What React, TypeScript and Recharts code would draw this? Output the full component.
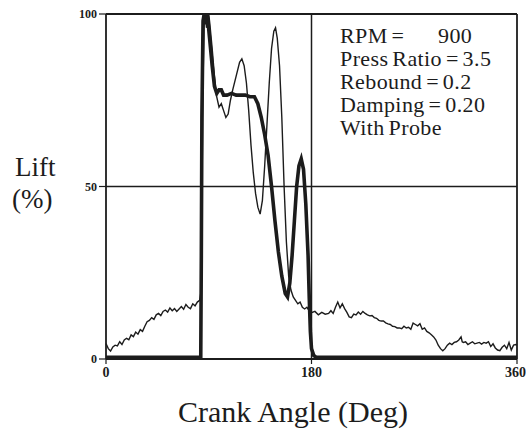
import React from "react";
import { LineChart, Line, XAxis, YAxis, ReferenceLine } from "recharts";

// Measured (thin, noisy) lift trace
const measuredAngle = [
  0, 2, 4, 6, 8, 10, 12, 14, 16, 18, 20, 22, 24, 26, 28, 30, 32, 34, 36, 38, 40, 42, 44, 46, 48, 50,
  52, 54, 56, 58, 60, 62, 64, 66, 68, 70, 72, 74, 76, 78, 80, 82, 83, 84, 85, 86, 87, 88, 89, 90, 91,
  93, 95, 97, 99, 101, 103, 105, 107, 109, 111, 114, 117, 119, 121, 123, 125, 127, 129, 131, 133, 135,
  137, 139, 141, 143, 145, 147, 148.5, 150, 152, 154, 156, 158, 160, 162, 164, 166, 168, 170, 172, 174,
  176, 178, 180, 183, 186, 189, 192, 195, 197, 199, 201, 203, 205, 207, 209, 211, 213, 215, 217, 219,
  221, 223, 225, 227, 229, 231, 233, 235, 237, 239, 241, 243, 245, 247, 249, 251, 253, 255, 257, 259,
  261, 263, 265, 267, 269, 271, 273, 275, 277, 279, 281, 283, 285, 287, 289, 291, 293, 295, 297, 299,
  301, 303, 305, 307, 309, 311, 312, 313, 315, 317, 319, 321, 323, 325, 327, 329, 331, 333, 335, 337,
  339, 341, 343, 345, 347, 349, 351, 353, 355, 357, 359, 360,
];
const measuredLift = [
  4.5, 3, 2.3, 3.5, 4, 3.8, 5, 4.2, 5.5, 6, 5.6, 7, 6.5, 7.8, 7.2, 8.5, 8, 9.5, 10.8, 11.2, 12, 11.5,
  12.8, 13.2, 12.6, 13.8, 14.2, 13.6, 14.8, 14, 14.6, 13.8, 14.5, 15.2, 14.4, 15.8, 15, 14.6, 16, 15.4,
  16.5, 17, 19, 45, 80, 99, 100, 96, 99, 100, 97,
  90, 82, 76, 73, 74, 72, 70, 71, 75, 78, 82, 86, 87, 85, 80, 72, 62, 54, 48, 44, 42,
  46, 56, 68, 80, 90, 95, 96, 93, 85, 70, 50, 34, 24, 20, 18, 17, 16, 16.5, 15, 14.5,
  15, 14, 13.4, 13.8, 12.8, 13.5, 13, 13.2, 14, 13.2, 15, 16.5, 14.8, 16, 14.6, 13.5, 12.2, 12, 13, 12.8,
  13.6, 13, 13.8, 13.2, 12.8, 12.5, 12.6, 12, 11.8, 11.2, 11, 11, 10.5, 10.2, 10, 9.5, 9.4, 9, 9, 8.8,
  9.5, 9, 9.2, 8.6, 10.4, 10, 9.6, 10.2, 8.6, 9, 8, 7.6, 7, 6.4, 5.5, 4, 3, 2.4, 3, 4,
  4.6, 4.2, 4.8, 5, 5.5, 6.4, 5, 4.8, 5, 4.2, 4.6, 5, 4.4, 4.6, 4.8, 4.3, 4.8, 4.6, 5, 3.6,
  4.4, 3.2, 2.6, 2.4, 3.4, 4, 3, 4.8, 2.6, 4, 4.2, 4,
];

// Simulated (thick) lift trace
const simulatedAngle = [
  0, 83, 83.5, 84, 85, 86, 87, 88, 89, 91, 93, 95, 97, 99, 101, 103, 106, 110, 114, 118, 122, 126, 130,
  133, 136, 139, 142, 145, 148, 151, 154, 157, 159, 161, 163, 165, 167, 169, 171, 173, 175, 177, 178,
  179, 180, 182, 184, 360,
];
const simulatedLift = [
  0.5, 0.5, 30, 70, 98, 100, 97, 100, 99, 92, 85, 79, 77, 78, 78, 76.5, 76.5, 77, 76.5, 76.5, 76.5, 76, 76,
  74, 70, 65, 59, 50, 40, 31, 24, 19, 18, 22, 30, 40, 50, 56, 58, 55, 45, 30, 18,
  8, 3, 1, 0.5, 0.5,
];

const xTicks = [0, 180, 360];
const yTicks = [0, 50, 100];

const annotationLines = ["Press Ratio = 3.5", "Rebound = 0.2", "Damping = 0.20", "With Probe"];

const measuredData = measuredAngle.map((x, i) => ({ x, y: measuredLift[i] }));
const simulatedData = simulatedAngle.map((x, i) => ({ x, y: simulatedLift[i] }));

const INK = "#1c1c1c";
const SERIF = "'Liberation Serif', 'Times New Roman', serif";

export default function App() {
  return (
    <div style={{ position: "absolute", left: 0, top: 0, width: 526, height: 434, background: "#fff" }}>
      <div style={{ position: "absolute", left: 0, top: 0 }}>
        <LineChart width={526} height={434} margin={{ top: 14, right: 9, bottom: 0, left: 0 }}>
          <XAxis
            type="number"
            dataKey="x"
            domain={[0, 360]}
            ticks={xTicks}
            height={75}
            tickSize={5}
            tickMargin={3}
            axisLine={{ stroke: INK, strokeWidth: 1.8 }}
            tickLine={{ stroke: INK, strokeWidth: 1.2 }}
            tick={{ fill: INK, fontSize: 14, fontWeight: 700, fontFamily: SERIF }}
            allowDuplicatedCategory={false}
          />
          <YAxis
            type="number"
            dataKey="y"
            domain={[0, 100]}
            ticks={yTicks}
            width={106}
            tickSize={7}
            tickMargin={2}
            axisLine={{ stroke: INK, strokeWidth: 1.8 }}
            tickLine={{ stroke: INK, strokeWidth: 1.2 }}
            tick={{ fill: INK, fontSize: 12, fontWeight: 700, fontFamily: SERIF }}
          />
          <ReferenceLine y={100} stroke={INK} strokeWidth={1.8} />
          <ReferenceLine x={360} stroke={INK} strokeWidth={1.8} />
          <ReferenceLine x={180} stroke={INK} strokeWidth={1.5} />
          <ReferenceLine y={50} stroke={INK} strokeWidth={1.5} />
          <Line
            data={measuredData}
            dataKey="y"
            type="linear"
            stroke={INK}
            strokeWidth={1.4}
            dot={false}
            isAnimationActive={false}
          />
          <Line
            data={simulatedData}
            dataKey="y"
            type="linear"
            stroke={INK}
            strokeWidth={3.6}
            dot={false}
            isAnimationActive={false}
          />
        </LineChart>
      </div>
      <svg
        width={526}
        height={434}
        style={{ position: "absolute", left: 0, top: 0, pointerEvents: "none" }}
      >
        <g fontFamily={SERIF} fill={INK}>
          <text x={340} y={43} fontSize={22} letterSpacing={0.4} wordSpacing={-2}>
            <tspan x={340}>RPM =</tspan>
            <tspan x={438}>900</tspan>
          </text>
          {annotationLines.map((t, i) => (
            <text key={t} x={340} y={66 + i * 23} fontSize={22} letterSpacing={0.4} wordSpacing={-2}>
              {t}
            </text>
          ))}
          <text x={15} y={176} fontSize={27}>Lift</text>
          <text x={12} y={208} fontSize={27}>(%)</text>
          <text x={178} y={422} fontSize={30}>Crank Angle (Deg)</text>
        </g>
      </svg>
    </div>
  );
}
